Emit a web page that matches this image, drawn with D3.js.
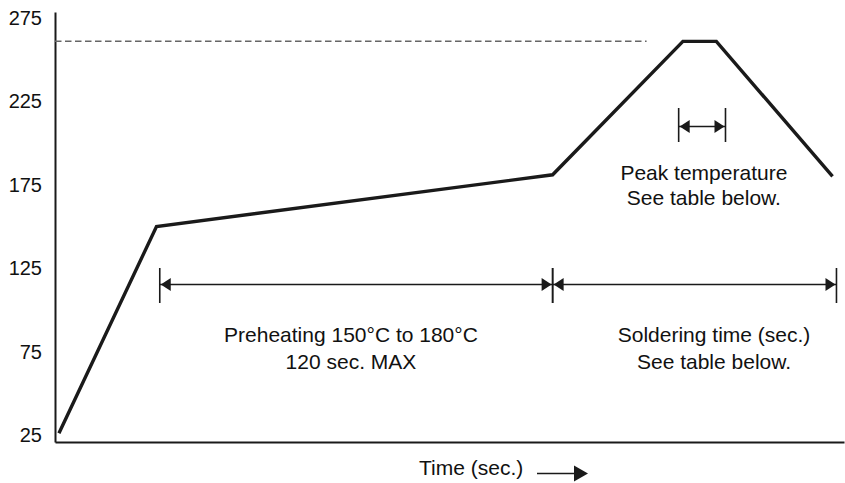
<!DOCTYPE html>
<html>
<head>
<meta charset="utf-8">
<script src="https://cdn.jsdelivr.net/npm/d3@7"></script>
<style>
  body { margin: 0; background: #fff; }
  svg { display: block; font-family: "Liberation Sans", Arial, sans-serif; }
</style>
</head>
<body>
<svg id="chart" width="845" height="483"></svg>
<script>
// reflow profile
const profileTime = [1.2, 31, 152, 191.8, 202, 237.5];   // sec.
const profileTemp = [26, 150, 181, 261, 261, 180];        // deg C
const tempTicks = [25, 75, 125, 175, 225, 275];
const peakLimit = 261;
const peakLimitEnd = 180.7;
const preheatSpan = [32, 152];
const solderSpan = [152, 238.7];
const peakSpan = [190.5, 204.8];
const preheatText = ["Preheating 150°C to 180°C", "120 sec. MAX"];
const solderText = ["Soldering time (sec.)", "See table below."];
const peakText = ["Peak temperature", "See table below."];
const xLabel = "Time (sec.)";

const svg = d3.select("#chart");
const ink = "#1a1a1a";

var x = d3.scaleLinear().domain([0, 241]).range([55, 844]);
var y = d3.scaleLinear().domain([20.8, 278.6]).range([442, 12]);

// y axis: labels only, line drawn by the domain path
svg.append("g")
  .attr("transform", "translate(55,0)")
  .call(d3.axisLeft(y).tickValues(tempTicks).tickSize(0).tickSizeOuter(0).tickPadding(13))
  .call(g => g.select(".domain").attr("stroke", ink).attr("stroke-width", 2))
  .call(g => g.selectAll("text").attr("font-size", 20).attr("fill", "#111")
    .attr("font-family", "Liberation Sans, Arial, sans-serif"));

// x axis, no ticks
svg.append("g")
  .attr("transform", "translate(0,442)")
  .call(d3.axisBottom(x).tickValues([]).tickSizeOuter(0))
  .call(g => g.select(".domain").attr("stroke", ink).attr("stroke-width", 2));

// dashed peak line
svg.append("line")
  .attr("x1", x(0)).attr("x2", x(peakLimitEnd))
  .attr("y1", y(peakLimit)).attr("y2", y(peakLimit))
  .attr("stroke", "#666").attr("stroke-width", 1.5)
  .attr("stroke-dasharray", "6.5,3.5");

// profile
const pts = profileTime.map((t, i) => [t, profileTemp[i]]);
svg.append("path")
  .datum(pts)
  .attr("fill", "none")
  .attr("stroke", ink)
  .attr("stroke-width", 3.4)
  .attr("stroke-linejoin", "miter")
  .attr("d", d3.line().x(d => x(d[0])).y(d => y(d[1])));

function head(px, py, dir, len, half) {
  // dir = 1 points right, -1 points left
  svg.append("path")
    .attr("d", "M" + px + "," + py + "L" + (px - dir * len) + "," + (py - half) +
      "L" + (px - dir * len) + "," + (py + half) + "Z")
    .attr("fill", ink);
}

function dimension(span, py, top, bottom) {
  var x0 = x(span[0]), x1 = x(span[1]);
  svg.append("line").attr("x1", x0).attr("x2", x1).attr("y1", py).attr("y2", py)
    .attr("stroke", ink).attr("stroke-width", 1.6);
  [x0, x1].forEach(px => {
    svg.append("line").attr("x1", px).attr("x2", px).attr("y1", top).attr("y2", bottom)
      .attr("stroke", ink).attr("stroke-width", 1.6);
  });
  head(x0 + 1, py, -1, 10, 6.5);
  head(x1 - 1, py, 1, 10, 6.5);
}

dimension(preheatSpan, 284.5, 268, 303);
dimension(solderSpan, 284.5, 268, 303);
dimension(peakSpan, 126.5, 108, 142);

function label(lines, tx, baseline, gap) {
  var t = svg.append("text")
    .attr("text-anchor", "middle")
    .attr("font-size", 21)
    .attr("fill", "#111");
  lines.forEach((s, i) => {
    t.append("tspan").attr("x", x(tx)).attr("y", baseline + i * gap).text(s);
  });
}

label(preheatText, 90.4, 342, 26.5);
label(solderText, 201.3, 342, 26.5);
label(peakText, 198.2, 179.5, 25);

// axis title with arrow
svg.append("text")
  .attr("x", 419).attr("y", 475)
  .attr("font-size", 21).attr("fill", "#111")
  .text(xLabel);
svg.append("line")
  .attr("x1", 537).attr("x2", 576).attr("y1", 473.5).attr("y2", 473.5)
  .attr("stroke", ink).attr("stroke-width", 1.6);
head(588, 473.5, 1, 14, 8);
</script>
</body>
</html>
